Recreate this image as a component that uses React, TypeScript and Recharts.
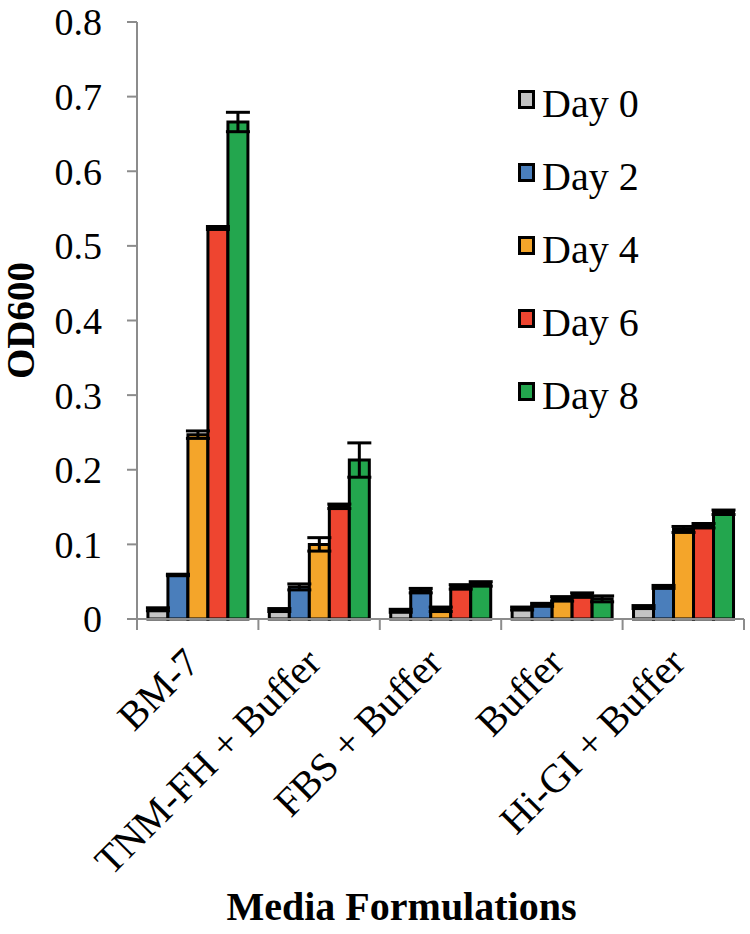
import React from 'react';
import { BarChart, Bar, XAxis, YAxis, ErrorBar, Legend } from 'recharts';

const categories = ['BM-7', 'TNM-FH + Buffer', 'FBS + Buffer', 'Buffer', 'Hi-GI + Buffer'];
const day0 = [0.013, 0.012, 0.011, 0.014, 0.016];
const day2 = [0.059, 0.043, 0.038, 0.019, 0.043];
const day4 = [0.247, 0.100, 0.013, 0.027, 0.120];
const day6 = [0.524, 0.151, 0.043, 0.032, 0.125];
const day8 = [0.666, 0.213, 0.047, 0.027, 0.143];
const err0 = [0.002, 0.002, 0.002, 0.002, 0.002];
const err2 = [0.001, 0.004, 0.003, 0.002, 0.002];
const err4 = [0.005, 0.009, 0.003, 0.003, 0.004];
const err6 = [0.002, 0.003, 0.003, 0.003, 0.003];
const err8 = [0.013, 0.023, 0.003, 0.004, 0.003];
const yTicks = [0, 0.1, 0.2, 0.3, 0.4, 0.5, 0.6, 0.7, 0.8];
const seriesNames = ['Day 0', 'Day 2', 'Day 4', 'Day 6', 'Day 8'];
const seriesColors = ['#c4c4c4', '#4a7ebb', '#f4a52a', '#ee4530', '#23a64e'];

const data = categories.map((c, i) => ({
  name: c,
  d0: day0[i], d2: day2[i], d4: day4[i], d6: day6[i], d8: day8[i],
  e0: err0[i], e2: err2[i], e4: err4[i], e6: err6[i], e8: err8[i],
}));

const W = 750;
const H = 934;
const M = { top: 22, right: 6, left: 0, bottom: 0 };
const Y_W = 137;
const X_H = 315;
const BAND = (W - M.left - M.right - Y_W) / categories.length;
const FONT = '"Liberation Serif", "Times New Roman", serif';
const AXIS = '#8c8c8c';

function XTick(props: any) {
  const { x, y, payload, index } = props;
  const half = BAND / 2;
  const ax = x + 4;
  const ay = y + 46;
  return (
    <g>
      <line x1={x - half} y1={y} x2={x - half} y2={y + 11} stroke={AXIS} strokeWidth={2} />
      {index === categories.length - 1 && (
        <line x1={x + half} y1={y} x2={x + half} y2={y + 11} stroke={AXIS} strokeWidth={2} />
      )}
      <text x={ax} y={ay} transform={`rotate(-45, ${ax}, ${ay})`} textAnchor="end" fontSize={40} fontFamily={FONT} fill="#000">
        {payload.value}
      </text>
    </g>
  );
}

function LegendContent(props: any) {
  const { payload } = props;
  return (
    <div style={{ fontFamily: FONT }}>
      {(payload || []).map((p: any) => (
        <div key={p.value} style={{ display: 'flex', alignItems: 'center', height: 73 }}>
          <span style={{ display: 'inline-block', width: 11, height: 13, border: '3px solid #000', background: p.color, marginRight: 7, marginTop: -8 }} />
          <span style={{ fontSize: 40, lineHeight: 1, color: '#000' }}>{p.value}</span>
        </div>
      ))}
    </div>
  );
}

const keys = ['d0', 'd2', 'd4', 'd6', 'd8'];
const errKeys = ['e0', 'e2', 'e4', 'e6', 'e8'];

export default function App() {
  return (
    <div style={{ position: 'absolute', left: 0, top: 0, width: W, height: H, background: '#fff', fontFamily: FONT }}>
      <BarChart width={W} height={H} data={data} margin={M} barCategoryGap="9%" barGap={0}>
        <XAxis
          dataKey="name"
          height={X_H}
          axisLine={{ stroke: AXIS, strokeWidth: 2 }}
          tickLine={false}
          tickSize={0}
          tickMargin={0}
          interval={0}
          tick={(p: any) => <XTick {...p} />}
          label={{ value: 'Media Formulations', position: 'insideBottom', offset: 14, dx: -39, style: { fontSize: 40, fontWeight: 'bold', fontFamily: FONT, fill: '#000' } }}
        />
        <YAxis
          width={Y_W}
          domain={[0, 0.8]}
          ticks={yTicks}
          interval={0}
          axisLine={{ stroke: AXIS, strokeWidth: 2 }}
          tickLine={{ stroke: AXIS, strokeWidth: 2 }}
          tickSize={10}
          tickMargin={25}
          tick={{ fontSize: 38, fill: '#000', fontFamily: FONT }}
          tickFormatter={(v: number) => (v === 0 ? '0' : String(v))}
          label={{ value: 'OD600', angle: -90, position: 'insideLeft', offset: 20, style: { fontSize: 39, fontWeight: 'bold', fontFamily: FONT, fill: '#000', textAnchor: 'middle' } }}
        />
        <Legend
          layout="vertical"
          align="center"
          verticalAlign="middle"
          wrapperStyle={{ left: 518, top: 67, width: 200 }}
          content={(p: any) => <LegendContent {...p} />}
        />
        {keys.map((k, i) => (
          <Bar key={k} dataKey={k} name={seriesNames[i]} fill={seriesColors[i]} stroke="#000" strokeWidth={3} isAnimationActive={false}>
            <ErrorBar dataKey={errKeys[i]} direction="y" width={12} stroke="#000" strokeWidth={3} />
          </Bar>
        ))}
      </BarChart>
    </div>
  );
}
